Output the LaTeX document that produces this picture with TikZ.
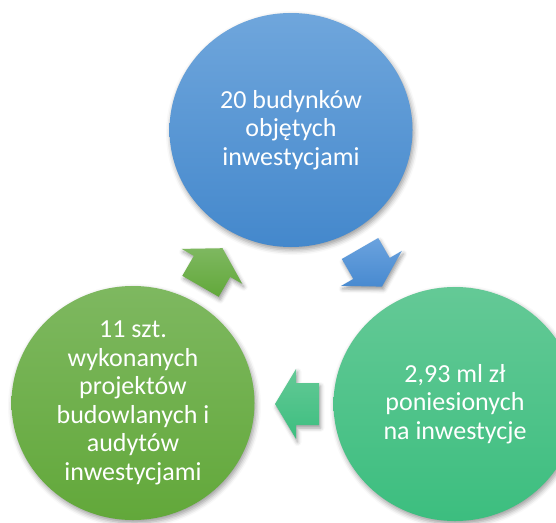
\documentclass[tikz,border=0pt]{standalone}
\usepackage{fontspec}
\setmainfont{Carlito}
\usetikzlibrary{shapes.geometric,shadows.blur}
\definecolor{blueT}{RGB}{111,166,220}
\definecolor{blueB}{RGB}{68,136,204}
\definecolor{blueAT}{RGB}{106,162,222}
\definecolor{blueAB}{RGB}{72,138,208}
\definecolor{tealT}{RGB}{100,201,150}
\definecolor{tealB}{RGB}{60,190,127}
\definecolor{greenT}{RGB}{126,184,96}
\definecolor{greenB}{RGB}{98,168,58}
\tikzset{
  cyclebubble/.style={ellipse, inner sep=0pt, minimum width=243pt, minimum height=234pt,
    text=white, align=center, font=\fontsize{26}{28.5}\selectfont,
    blur shadow={shadow xshift=1.5pt, shadow yshift=-3pt, shadow blur radius=5pt, shadow opacity=40}},
  cyclearrow/.style={blur shadow={shadow xshift=1.5pt, shadow yshift=-3pt, shadow blur radius=4pt, shadow opacity=40}}
}
\begin{document}
\begin{tikzpicture}[x=1pt,y=-1pt]
\useasboundingbox (0,0) rectangle (556,522);
% arrows
\path[cyclearrow, top color=blueAT, bottom color=blueAB]
  (382,286.6) -- (341.2,285.9) -- (353.3,278.9) -- (341.8,259.0) -- (378.2,238.0) -- (389.7,257.9) -- (401.8,250.9) -- cycle;
\path[cyclearrow, top color=greenT, bottom color=greenB]
  (222.5,248.2) -- (242.3,283.9) -- (230.2,276.9) -- (218.7,296.8) -- (182.3,275.8) -- (193.8,255.9) -- (181.7,248.9) -- cycle;
\path[cyclearrow, top color=tealT, bottom color=tealB]
  (275,404) -- (296,369) -- (296,383) -- (319,383) -- (319,425) -- (296,425) -- (296,439) -- cycle;
% circles
\node[cyclebubble, top color=blueT, bottom color=blueB] (top) at (291,130) {20 budynków\\objętych\\inwestycjami};
\node[cyclebubble, top color=tealT, bottom color=tealB] (right) at (455,404) {2,93 ml zł\\poniesionych\\na inwestycje};
\node[cyclebubble, top color=greenT, bottom color=greenB] (left) at (133,403) {11 szt.\\wykonanych\\projektów\\budowlanych i\\audytów\\inwestycjami};
\end{tikzpicture}
\end{document}
